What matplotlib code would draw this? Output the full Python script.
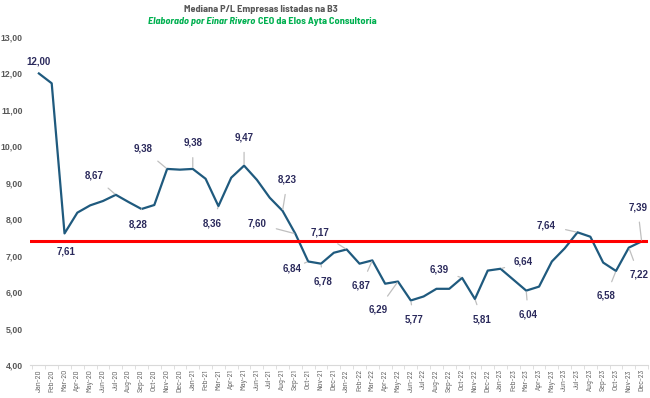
import matplotlib
matplotlib.use("Agg")
import matplotlib.pyplot as plt
import numpy as np

plt.rcParams['font.family'] = ['Barlow Semi Condensed', 'DejaVu Sans']
fonte_num = ['Liberation Sans', 'DejaVu Sans']

meses = ["Jan", "Feb", "Mar", "Apr", "May", "Jun", "Jul", "Aug", "Sep", "Oct", "Nov", "Dec"]
labels = [m + "-" + a for a in ["20", "21", "22", "23"] for m in meses]

pl = [12.00, 11.73, 7.61, 8.18, 8.38, 8.50, 8.67, 8.47, 8.28, 8.39, 9.38, 9.36,
      9.38, 9.11, 8.36, 9.14, 9.47, 9.08, 8.59, 8.23, 7.60, 6.84, 6.78, 7.08,
      7.17, 6.78, 6.87, 6.23, 6.29, 5.77, 5.88, 6.09, 6.09, 6.39, 5.81, 6.59,
      6.64, 6.34, 6.04, 6.15, 6.84, 7.20, 7.64, 7.52, 6.81, 6.58, 7.22, 7.39]
referencia = 7.39

# indice do ponto rotulado -> deslocamento do rotulo (px), com ou sem linha guia
rotulos = {0: (0, 12, False), 2: (2, -18, False), 6: (-22, 19, True), 8: (-3, -15, True),
           10: (-24, 20, True), 12: (0, 26, True), 14: (-6, -17, True), 16: (0, 28, True),
           19: (5, 31, True), 20: (-38, 10, True), 21: (-16, -7, True), 22: (2, -18, True),
           24: (-27, 17, True), 26: (-11, -25, True), 28: (-20, -28, True), 29: (3, -19, True),
           33: (-23, 8, True), 34: (7, -20, True), 36: (23, 7, True), 38: (2, -24, True),
           42: (-31, 7, True), 45: (-10, -25, True), 46: (10, -27, True), 47: (-4, 34, True)}

fig = plt.figure(figsize=(6.5, 3.98), dpi=100)
ax = fig.add_axes([0.046, 0.083, 0.951, 0.824])

x = np.arange(len(pl))
ax.plot(x, pl, color="#1F5A7E", lw=1.6, zorder=3)
ax.axhline(referencia, color="#FF0000", lw=2.2, zorder=4)

for i, (dx, dy, guia) in rotulos.items():
    txt = f"{pl[i]:.2f}".replace(".", ",")
    seta = dict(arrowstyle="-", color="#BFBFBF", lw=0.9, shrinkA=5, shrinkB=1) if guia else None
    ax.annotate(txt, xy=(i, pl[i]), xytext=(dx * 0.72, dy * 0.72), textcoords="offset points",
                ha="center", va="center", fontsize=7, fontweight="bold", color="#2B2A5C",
                family=fonte_num, arrowprops=seta, zorder=5)

ax.set_xlim(-0.7, 47.5)
ax.set_ylim(4, 13)
ax.set_yticks(np.arange(4, 14, 1))
ax.set_yticklabels([f"{v:.2f}".replace(".", ",") for v in np.arange(4, 14, 1)])
ax.set_xticks(x)
ax.set_xticklabels(labels, rotation=90, fontsize=5.8, color="#595959")
ax.set_xticks(np.arange(-0.5, 48, 1), minor=True)
ax.tick_params(axis="x", which="major", length=0, pad=3)
ax.tick_params(axis="x", which="minor", length=3, color="#D9D9D9")
ax.tick_params(axis="y", length=0, labelsize=6.3, labelcolor="#595959", pad=5)
for t in ax.get_yticklabels():
    t.set_fontweight("bold")
    t.set_family(fonte_num)
for s in ["top", "right", "left"]:
    ax.spines[s].set_visible(False)
ax.spines["bottom"].set_color("#D9D9D9")

fig.text(0.402, 0.977, "Mediana P/L Empresas listadas na B3", ha="center", va="center",
         fontsize=7.4, fontweight="bold", color="#595959")
fig.text(0.393, 0.946, "Elaborado por Einar Rivero", ha="right", va="center",
         fontsize=7.4, fontweight="bold", style="italic", color="#00B050")
fig.text(0.397, 0.946, "CEO da Elos Ayta Consultoria", ha="left", va="center",
         fontsize=7.4, fontweight="bold", color="#00B050")

fig.savefig("out.png", dpi=100)
